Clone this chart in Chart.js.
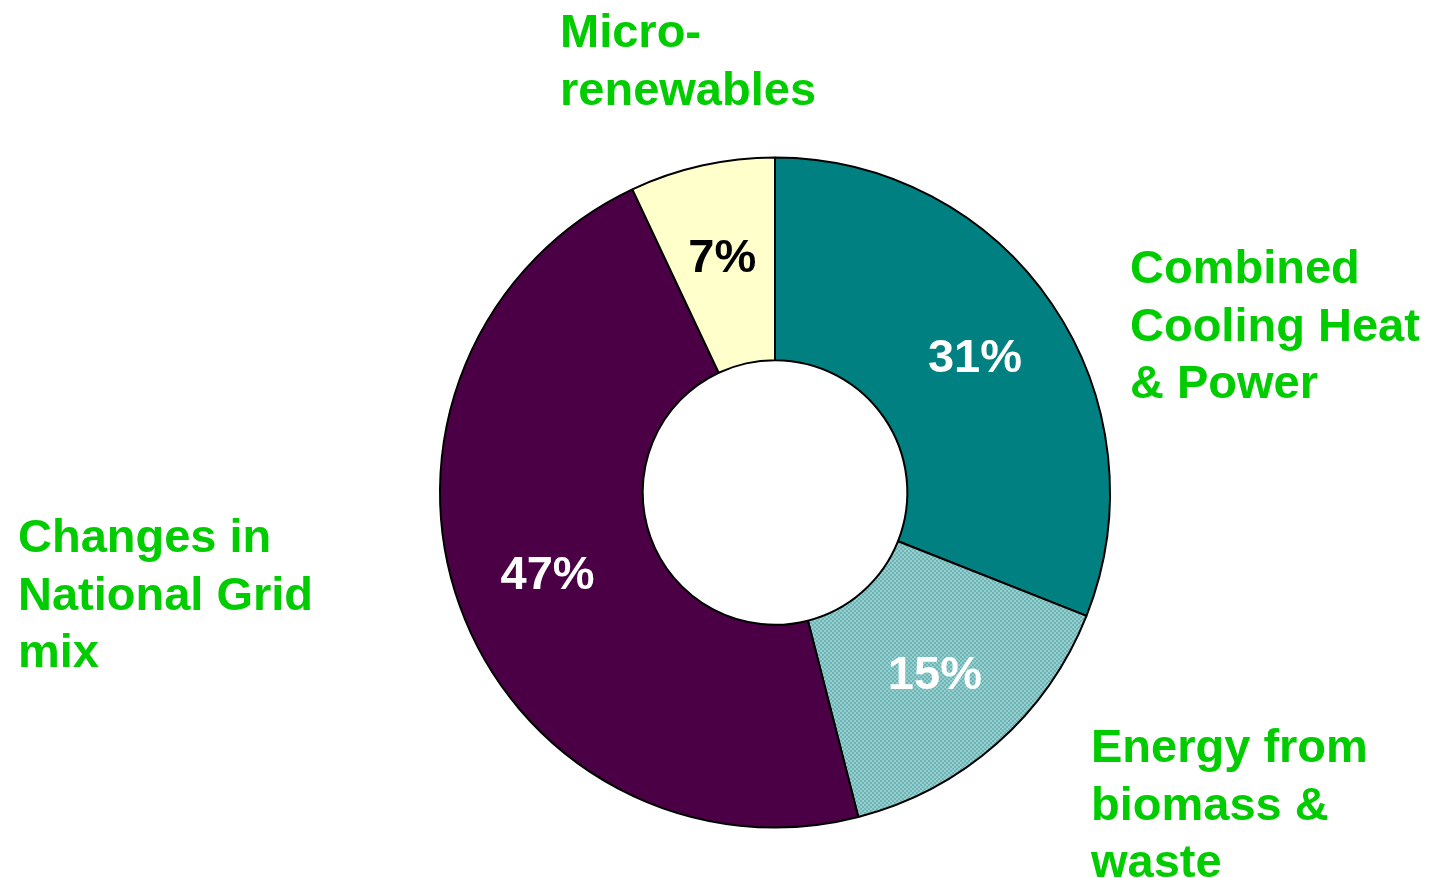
<!DOCTYPE html>
<html>
<head>
<meta charset="utf-8">
<script src="https://cdn.jsdelivr.net/npm/chart.js@4.4.0/dist/chart.umd.min.js"></script>
<style>
  html, body { margin: 0; padding: 0; background: #fff; }
  #wrap { width: 1430px; height: 878px; }
</style>
</head>
<body>
<div id="wrap"><canvas id="donut" width="1430" height="878"></canvas></div>
<script>
// data, clockwise from 12 o'clock
const categories = [
  ["Combined", "Cooling Heat", "& Power"],
  ["Energy from", "biomass &", "waste"],
  ["Changes in", "National Grid", "mix"],
  ["Micro-", "renewables"]
];
const shares = [31, 15, 47, 7];

const sliceColors = ["#008080", null, "#4B0046", "#FFFFCC"];
const pctColors = ["#fff", "#fff", "#fff", "#000"];
const green = "#00CC00";
const font = "bold 47px 'Liberation Sans', Arial, sans-serif";

// checker pattern for the light teal (hatched) slice
function hatch() {
  const c = document.createElement("canvas");
  c.width = 4; c.height = 4;
  const g = c.getContext("2d");
  g.fillStyle = "#9ACDCD";
  g.fillRect(0, 0, 4, 4);
  g.fillStyle = "#6AB6B6";
  g.fillRect(0, 0, 2, 2);
  g.fillRect(2, 2, 2, 2);
  return g.createPattern(c, "repeat");
}
sliceColors[1] = hatch();

// where the outside captions go (left edge, first baseline)
const captionPos = [
  { x: 1130, y: 283 },
  { x: 1091, y: 762 },
  { x: 18, y: 552 },
  { x: 560, y: 47 }
];

const labelsPlugin = {
  id: "labelsPlugin",
  afterDatasetsDraw(chart) {
    const ctx = chart.ctx;
    const meta = chart.getDatasetMeta(0);
    ctx.save();
    ctx.font = "bold 47px 'Liberation Sans', Arial, sans-serif";
    ctx.textAlign = "center";
    ctx.textBaseline = "middle";
    meta.data.forEach((arc, i) => {
      const a = arc.getProps(["x", "y", "startAngle", "endAngle", "innerRadius", "outerRadius"], true);
      const mid = (a.startAngle + a.endAngle) / 2;
      const r = a.innerRadius + 0.54 * (a.outerRadius - a.innerRadius);
      ctx.fillStyle = pctColors[i];
      ctx.fillText(shares[i] + "%", a.x + Math.cos(mid) * r, a.y + Math.sin(mid) * r + 2);
    });

    ctx.font = font;
    ctx.textAlign = "left";
    ctx.textBaseline = "alphabetic";
    ctx.fillStyle = green;
    categories.forEach((lines, i) => {
      lines.forEach((t, j) => {
        ctx.fillText(t, captionPos[i].x, captionPos[i].y + j * 57.5);
      });
    });
    ctx.restore();
  }
};

new Chart(document.getElementById("donut").getContext("2d"), {
  type: "doughnut",
  data: {
    labels: categories.map((l) => l.join(" ")),
    datasets: [
      {
        data: shares,
        backgroundColor: sliceColors,
        borderColor: "#000",
        borderWidth: 2,
        hoverOffset: 0,
      },
    ],
  },
  options: {
    responsive: false,
    animation: false,
    cutout: "39.5%",
    layout: {
      padding: { left: 439, right: 319, top: 156, bottom: 49 },
    },
    plugins: {
      legend: { display: false },
      tooltip: { enabled: false },
    },
  },
  plugins: [labelsPlugin],
});
</script>
</body>
</html>
